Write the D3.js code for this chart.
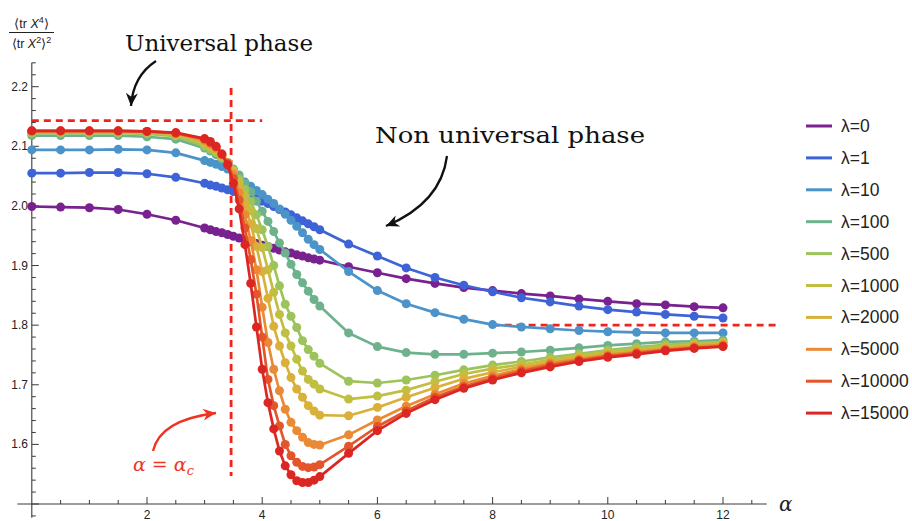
<!DOCTYPE html>
<html>
<head>
<meta charset="utf-8">
<script src="https://cdn.jsdelivr.net/npm/d3@7"></script>
<style>
  html, body { margin: 0; padding: 0; background: #fff; }
  svg { display: block; }
</style>
</head>
<body>
<svg id="chart" width="912" height="521"></svg>
<script>
// ---------------- data ----------------
const alphas = [0, 0.5, 1, 1.5, 2, 2.5,
  3, 3.1, 3.2, 3.3, 3.4, 3.5, 3.6, 3.7, 3.8, 3.9, 4, 4.1, 4.2, 4.3, 4.4, 4.5, 4.6, 4.7, 4.8, 4.9, 5,
  5.5, 6, 6.5, 7, 7.5, 8, 8.5, 9, 9.5, 10, 10.5, 11, 11.5, 12];

const lam0 = [1.999,1.998,1.997,1.994,1.986,1.976,
  1.963,1.960,1.957,1.955,1.952,1.949,1.946,1.943,1.940,1.937,1.934,1.932,1.929,1.926,1.923,1.921,1.918,1.916,1.913,1.911,1.909,
  1.898,1.888,1.878,1.870,1.863,1.858,1.853,1.849,1.844,1.840,1.836,1.834,1.831,1.829];
const lam1 = [2.055,2.055,2.056,2.056,2.054,2.048,
  2.038,2.035,2.033,2.030,2.027,2.024,2.021,2.018,2.015,2.012,2.008,2.004,1.999,1.994,1.990,1.985,1.980,1.975,1.970,1.965,1.960,
  1.936,1.916,1.896,1.880,1.867,1.856,1.846,1.839,1.832,1.826,1.822,1.818,1.815,1.812];
const lam10 = [2.094,2.094,2.094,2.095,2.094,2.089,
  2.076,2.073,2.070,2.066,2.062,2.055,2.047,2.040,2.033,2.026,2.019,2.011,2.004,1.995,1.986,1.976,1.966,1.955,1.944,1.935,1.927,
  1.890,1.858,1.836,1.821,1.810,1.801,1.797,1.794,1.791,1.789,1.788,1.787,1.787,1.787];
const lam100 = [2.118,2.118,2.118,2.118,2.116,2.112,
  2.097,2.092,2.086,2.079,2.071,2.062,2.052,2.038,2.024,2.008,1.991,1.974,1.957,1.938,1.921,1.902,1.885,1.871,1.857,1.843,1.832,
  1.787,1.764,1.754,1.751,1.751,1.753,1.755,1.758,1.762,1.766,1.769,1.772,1.773,1.775];
const lam500 = [2.122,2.122,2.122,2.122,2.121,2.117,
  2.100,2.095,2.089,2.081,2.072,2.060,2.045,2.028,2.008,1.985,1.960,1.932,1.900,1.866,1.835,1.815,1.796,1.774,1.759,1.748,1.736,
  1.706,1.703,1.708,1.716,1.725,1.733,1.739,1.746,1.752,1.758,1.763,1.767,1.770,1.772];
const lam1000 = [2.124,2.124,2.124,2.124,2.123,2.119,
  2.105,2.099,2.092,2.083,2.073,2.060,2.040,2.018,1.992,1.962,1.930,1.893,1.855,1.818,1.787,1.765,1.743,1.723,1.709,1.701,1.693,
  1.676,1.681,1.691,1.705,1.718,1.727,1.734,1.742,1.749,1.755,1.760,1.764,1.768,1.771];
const lam2000 = [2.125,2.125,2.125,2.125,2.124,2.121,
  2.108,2.102,2.095,2.085,2.073,2.057,2.032,2.003,1.970,1.932,1.890,1.845,1.798,1.765,1.737,1.712,1.693,1.679,1.665,1.656,1.649,
  1.648,1.662,1.679,1.695,1.710,1.721,1.730,1.738,1.746,1.752,1.757,1.762,1.766,1.769];
const lam5000 = [2.125,2.125,2.125,2.125,2.125,2.122,
  2.110,2.104,2.097,2.086,2.072,2.052,2.022,1.985,1.942,1.893,1.830,1.771,1.726,1.690,1.659,1.637,1.623,1.612,1.603,1.600,1.599,
  1.616,1.641,1.664,1.684,1.702,1.715,1.726,1.736,1.743,1.750,1.755,1.760,1.764,1.767];
const lam10000 = [2.126,2.126,2.126,2.126,2.125,2.122,
  2.112,2.106,2.099,2.087,2.071,2.046,2.010,1.963,1.910,1.852,1.780,1.709,1.665,1.631,1.600,1.581,1.570,1.563,1.561,1.562,1.566,
  1.597,1.630,1.656,1.679,1.697,1.711,1.723,1.733,1.741,1.748,1.753,1.758,1.762,1.765];
const lam15000 = [2.126,2.126,2.126,2.126,2.125,2.123,
  2.113,2.108,2.100,2.087,2.069,2.038,1.995,1.935,1.870,1.797,1.726,1.670,1.626,1.589,1.564,1.549,1.539,1.536,1.536,1.540,1.546,
  1.585,1.623,1.652,1.675,1.694,1.708,1.720,1.730,1.739,1.746,1.751,1.757,1.761,1.764];

const seriesLabels = ["λ=0","λ=1","λ=10","λ=100","λ=500","λ=1000","λ=2000","λ=5000","λ=10000","λ=15000"];
const seriesValues = [lam0, lam1, lam10, lam100, lam500, lam1000, lam2000, lam5000, lam10000, lam15000];
const seriesColors = ["#7a2190","#3e63d6","#4b93c9","#6db28d","#9dc35b","#c1bf42","#d9b13a","#ea8a35","#e3552b","#dc2623"];

const xTicks = [2, 4, 6, 8, 10, 12];
const yTicks = [1.6, 1.7, 1.8, 1.9, 2.0, 2.1, 2.2];

// annotation values
const alphaC = 3.46;
const universalLevel = 2.143;
const nonUniversalLevel = 1.8;

// ---------------- drawing ----------------
const svg = d3.select("#chart");
const x = d3.scaleLinear().domain([0, 12]).range([31.8, 723]);
const y = d3.scaleLinear().domain([1.5, 2.2]).range([504, 86.7]);

const axisColor = "#3a3a3a";
const tickFont = "'Liberation Sans', Arial, Helvetica, sans-serif";

// axes lines
svg.append("line").attr("x1", x(-0.25)).attr("x2", x(12.76)).attr("y1", y(1.5)).attr("y2", y(1.5))
  .attr("stroke", axisColor).attr("stroke-width", 1.1);
svg.append("line").attr("x1", x(0)).attr("x2", x(0)).attr("y1", y(2.24)).attr("y2", y(1.477))
  .attr("stroke", axisColor).attr("stroke-width", 1.1);

// x ticks (major + minor)
const xMinor = d3.range(0.5, 12.75, 0.5).filter(v => !xTicks.includes(v));
svg.append("g").selectAll("line").data(xMinor).join("line")
  .attr("x1", d => x(d)).attr("x2", d => x(d)).attr("y1", y(1.5)).attr("y2", y(1.5) - 4)
  .attr("stroke", axisColor).attr("stroke-width", 1);
svg.append("g").selectAll("line").data(xTicks).join("line")
  .attr("x1", d => x(d)).attr("x2", d => x(d)).attr("y1", y(1.5)).attr("y2", y(1.5) - 7)
  .attr("stroke", axisColor).attr("stroke-width", 1);
svg.append("g").selectAll("text").data(xTicks).join("text")
  .attr("x", d => x(d)).attr("y", 519)
  .attr("text-anchor", "middle").attr("font-family", tickFont).attr("font-size", 12).attr("fill", "#222")
  .text(d => d);

// y ticks
const yMinor = d3.range(1.48, 2.241, 0.02).map(v => Math.round(v * 100) / 100)
  .filter(v => !yTicks.some(t => Math.abs(t - v) < 1e-9) && Math.abs(v - 1.5) > 1e-9);
svg.append("g").selectAll("line").data(yMinor).join("line")
  .attr("x1", x(0)).attr("x2", x(0) + 4).attr("y1", d => y(d)).attr("y2", d => y(d))
  .attr("stroke", axisColor).attr("stroke-width", 1);
svg.append("g").selectAll("line").data(yTicks.concat([1.5])).join("line")
  .attr("x1", x(0)).attr("x2", x(0) + 7).attr("y1", d => y(d)).attr("y2", d => y(d))
  .attr("stroke", axisColor).attr("stroke-width", 1);
svg.append("g").selectAll("text").data(yTicks).join("text")
  .attr("x", 28).attr("y", d => y(d) + 4)
  .attr("text-anchor", "end").attr("font-family", tickFont).attr("font-size", 12).attr("fill", "#222")
  .text(d => d3.format(".1f")(d));

// axis labels
svg.append("text").attr("x", 779).attr("y", 511)
  .attr("font-family", "'DejaVu Serif', serif").attr("font-style", "italic").attr("font-size", 20).attr("fill", "#222")
  .text("α");

const yl = svg.append("g").attr("font-family", tickFont).attr("font-size", 12.5).attr("fill", "#222");
const num = yl.append("text").attr("x", 31.5).attr("y", 28).attr("text-anchor", "middle");
num.append("tspan").text("⟨tr ");
num.append("tspan").attr("font-style", "italic").text("X");
num.append("tspan").attr("font-size", 9).attr("dy", -5).text("4");
num.append("tspan").attr("dy", 5).text("⟩");
yl.append("line").attr("x1", 9).attr("x2", 54).attr("y1", 32.5).attr("y2", 32.5).attr("stroke", "#222").attr("stroke-width", 1);
const den = yl.append("text").attr("x", 31.5).attr("y", 48).attr("text-anchor", "middle");
den.append("tspan").text("⟨tr ");
den.append("tspan").attr("font-style", "italic").text("X");
den.append("tspan").attr("font-size", 9).attr("dy", -5).text("2");
den.append("tspan").attr("dy", 5).text("⟩");
den.append("tspan").attr("font-size", 9).attr("dy", -5).text("2");

// red dashed reference lines
const dashRed = "#f2231c";
svg.append("line").attr("x1", x(0)).attr("x2", x(4.0)).attr("y1", y(universalLevel)).attr("y2", y(universalLevel))
  .attr("stroke", dashRed).attr("stroke-width", 2.8).attr("stroke-dasharray", "7,5");
svg.append("line").attr("x1", x(alphaC)).attr("x2", x(alphaC)).attr("y1", y(2.198)).attr("y2", y(1.547))
  .attr("stroke", dashRed).attr("stroke-width", 2.8).attr("stroke-dasharray", "7,5");
svg.append("line").attr("x1", x(8)).attr("x2", x(12.95)).attr("y1", y(nonUniversalLevel)).attr("y2", y(nonUniversalLevel))
  .attr("stroke", dashRed).attr("stroke-width", 2.8).attr("stroke-dasharray", "7,5");

// series
const line = d3.line().x((d, i) => x(alphas[i])).y(d => y(d));
const gS = svg.append("g");
seriesValues.forEach((vals, k) => {
  const g = gS.append("g");
  g.append("path").datum(vals).attr("d", line)
    .attr("fill", "none").attr("stroke", seriesColors[k]).attr("stroke-width", 2.7).attr("stroke-linejoin", "round");
  g.selectAll("circle").data(vals).join("circle")
    .attr("cx", (d, i) => x(alphas[i])).attr("cy", d => y(d)).attr("r", 4.5)
    .attr("fill", seriesColors[k]);
});

// legend
const lg = svg.append("g");
seriesLabels.forEach((lab, k) => {
  const yy = 126 + k * 31.9;
  lg.append("line").attr("x1", 806).attr("x2", 832).attr("y1", yy).attr("y2", yy)
    .attr("stroke", seriesColors[k]).attr("stroke-width", 3);
  lg.append("text").attr("x", 841).attr("y", yy + 6)
    .attr("font-family", tickFont).attr("font-size", 17.5).attr("fill", "#222").text(lab);
});

// annotations
const defs = svg.append("defs");
function marker(id, color) {
  defs.append("marker").attr("id", id).attr("viewBox", "-14 -7 16 14").attr("refX", 0).attr("refY", 0)
    .attr("markerWidth", 16).attr("markerHeight", 14).attr("markerUnits", "userSpaceOnUse").attr("orient", "auto")
    .append("path").attr("d", "M0,0 L-13,-6 L-9,0 L-13,6 Z").attr("fill", color);
}
marker("arrBlack", "#111");
marker("arrRed", "#f0321f");

const serif = "'DejaVu Serif', serif";
svg.append("text").attr("x", 125).attr("y", 51).attr("font-family", serif).attr("font-size", 23).attr("fill", "#111")
  .attr("textLength", 188).attr("lengthAdjust", "spacingAndGlyphs")
  .text("Universal phase");
svg.append("text").attr("x", 375).attr("y", 143).attr("font-family", serif).attr("font-size", 23).attr("fill", "#111")
  .attr("textLength", 270).attr("lengthAdjust", "spacingAndGlyphs")
  .text("Non universal phase");

svg.append("path").attr("d", "M156,61 Q133,76 131,106").attr("fill", "none").attr("stroke", "#111")
  .attr("stroke-width", 2.3).attr("marker-end", "url(#arrBlack)");
svg.append("path").attr("d", "M447,156 Q441,203 386,226").attr("fill", "none").attr("stroke", "#111")
  .attr("stroke-width", 2.3).attr("marker-end", "url(#arrBlack)");
svg.append("path").attr("d", "M153,451 Q160,420 216,413").attr("fill", "none").attr("stroke", "#f0321f")
  .attr("stroke-width", 2.3).attr("marker-end", "url(#arrRed)");

const ac = svg.append("text").attr("x", 133).attr("y", 471).attr("font-family", serif).attr("font-style", "italic")
  .attr("font-size", 19).attr("fill", "#ec3526");
ac.append("tspan").text("α = α");
ac.append("tspan").attr("font-size", 13).attr("dy", 4).text("c");
</script>
</body>
</html>
